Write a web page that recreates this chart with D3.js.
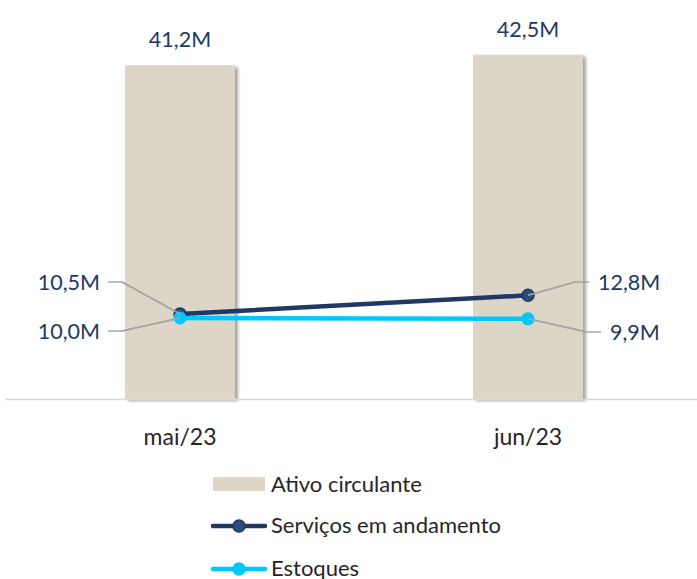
<!DOCTYPE html>
<html><head><meta charset="utf-8">
<script src="https://cdn.jsdelivr.net/npm/d3@7/dist/d3.min.js"></script>
<style>body{margin:0;background:#fff}svg{display:block;font-family:Lato,"Open Sans",sans-serif}</style>
</head><body><svg id="c" width="697" height="579"></svg>
<script>
const categories = ["mai/23","jun/23"];
const ativo = [41.2, 42.5];
const servicos = [10.5, 12.8];
const estoques = [10.0, 9.9];
const ativoLabels = ["41,2M","42,5M"];
const servicosLabels = ["10,5M","12,8M"];
const estoquesLabels = ["10,0M","9,9M"];
const legendNames = ["Ativo circulante","Serviços em andamento","Estoques"];

const svg = d3.select("#c");
const defs = svg.append("defs");
const f = defs.append("filter").attr("id","sh").attr("x","-10%").attr("y","-10%").attr("width","130%").attr("height","130%");
f.append("feDropShadow").attr("dx",3).attr("dy",2).attr("stdDeviation",1.8).attr("flood-color","#000").attr("flood-opacity",0.35);

const x = d3.scaleBand().domain(categories).range([6,702]).padding(0);
const y = d3.scaleLinear().domain([0,42.5]).range([399,54.75]);
const bw = x.bandwidth()*0.316;
const cx = c => x(c)+x.bandwidth()/2;

const barColor="#ddd5c5", navy="#1f3864", cyan="#00c8ff", textDark="#262626", labelCol="#1f3864";

svg.append("g").selectAll("rect").data(categories).join("rect")
  .attr("x",c=>cx(c)-bw/2).attr("width",bw)
  .attr("y",(c,i)=>y(ativo[i])).attr("height",(c,i)=>y(0)-y(ativo[i]))
  .attr("fill",barColor).attr("filter","url(#sh)");

svg.append("line").attr("x1",5).attr("x2",697).attr("y1",y(0)+0.5).attr("y2",y(0)+0.5).attr("stroke","#d9d9d9").attr("stroke-width",1.5);

const xAxis = d3.axisBottom(x).tickSize(0).tickPadding(0);
const gx = svg.append("g").attr("transform",`translate(0,${y(0)})`).call(xAxis);
gx.select(".domain").remove();
gx.selectAll("text").attr("font-size",23).attr("fill",textDark).attr("dy","0").attr("y",46).attr("font-family","Lato");

svg.append("g").selectAll("text").data(categories).join("text")
  .attr("x",cx).attr("y",(c,i)=>y(ativo[i])-18)
  .attr("text-anchor","middle").attr("font-size",21.5).attr("fill",labelCol)
  .text((c,i)=>ativoLabels[i]);

const leaders = [
  {v:servicos[0],c:0,tx:100,ty:282,anchor:"end",lab:servicosLabels[0],hx:[108,122]},
  {v:estoques[0],c:0,tx:100,ty:331,anchor:"end",lab:estoquesLabels[0],hx:[108,122]},
  {v:servicos[1],c:1,tx:598,ty:282,anchor:"start",lab:servicosLabels[1],hx:[589,575]},
  {v:estoques[1],c:1,tx:610,ty:332,anchor:"start",lab:estoquesLabels[1],hx:[601,587]}
];
leaders.forEach(d=>{
  const px = cx(categories[d.c]), py = y(d.v);
  svg.append("polyline").attr("points",`${d.hx[0]},${d.ty} ${d.hx[1]},${d.ty} ${px},${py}`)
    .attr("fill","none").attr("stroke","#a6a6a6").attr("stroke-width",1.5);
});

const line = d3.line().x((v,i)=>cx(categories[i])).y(v=>y(v));
svg.append("path").datum(estoques).attr("d",line).attr("fill","none").attr("stroke",cyan).attr("stroke-width",4.5).attr("stroke-linecap","round");
svg.append("path").datum(servicos).attr("d",line).attr("fill","none").attr("stroke",navy).attr("stroke-width",4.5).attr("stroke-linecap","round");
svg.append("g").selectAll("circle").data(servicos).join("circle")
  .attr("cx",(v,i)=>cx(categories[i])).attr("cy",v=>y(v)).attr("r",6).attr("fill","#2b4c7e").attr("stroke",navy).attr("stroke-width",1.5);
svg.append("g").selectAll("circle").data(estoques).join("circle")
  .attr("cx",(v,i)=>cx(categories[i])).attr("cy",v=>y(v)).attr("r",6.5).attr("fill",cyan);

leaders.forEach(d=>{
  const px = cx(categories[d.c]), py = y(d.v);
  svg.append("line").attr("x1",d.hx[1]).attr("y1",d.ty).attr("x2",px).attr("y2",py).attr("stroke","#a6a6a6").attr("stroke-width",1.5);
  svg.append("text").attr("x",d.tx).attr("y",d.ty).attr("dy","0.35em").attr("text-anchor",d.anchor)
    .attr("font-size",21.5).attr("fill",labelCol).text(d.lab);
});

const lgd = svg.append("g");
lgd.append("rect").attr("x",213).attr("y",477).attr("width",52).attr("height",14).attr("fill",barColor);
lgd.append("text").attr("x",271).attr("y",484).attr("dy","0.35em").attr("font-size",22).attr("fill",textDark).text(legendNames[0]);
[[526,navy,"#2b4c7e",legendNames[1]],[569,cyan,cyan,legendNames[2]]].forEach(([ly,sc,fc,nm])=>{
  lgd.append("line").attr("x1",213).attr("x2",265).attr("y1",ly).attr("y2",ly).attr("stroke",sc).attr("stroke-width",4.5).attr("stroke-linecap","round");
  lgd.append("circle").attr("cx",239).attr("cy",ly).attr("r",6).attr("fill",fc).attr("stroke",sc).attr("stroke-width",1.5);
  lgd.append("text").attr("x",271).attr("y",ly-1).attr("dy","0.35em").attr("font-size",22).attr("fill",textDark).text(nm);
});
</script></body></html>
